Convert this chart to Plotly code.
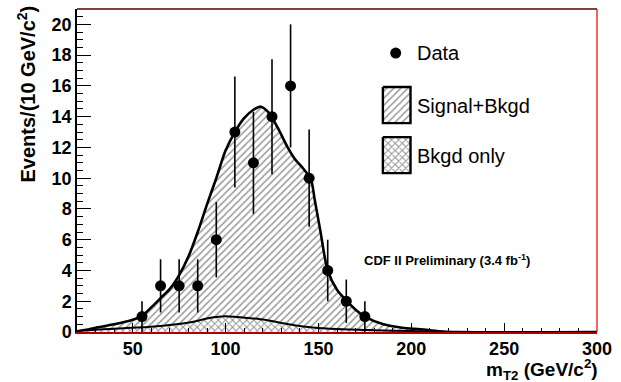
import plotly.graph_objects as go

# ---------------- data ----------------
data_x = [55, 65, 75, 85, 95, 105, 115, 125, 135, 145, 155, 165, 175]
data_y = [1, 3, 3, 3, 6, 13, 11, 14, 16, 10, 4, 2, 1]
data_err = [1.0, 1.73, 1.73, 1.73, 2.45, 3.61, 3.32, 3.74, 4.0, 3.16, 2.0, 1.41, 1.0]

sig_x = [20, 25, 30, 40, 50, 55, 60, 65, 70, 75, 80, 85, 90, 95, 100, 105, 110, 115,
         119, 123, 128, 133, 137, 142, 146, 148, 151, 155, 160, 165, 170, 175, 185,
         195, 205, 215, 225, 300]
sig_y = [0.05, 0.15, 0.28, 0.5, 0.8, 1.05, 1.6, 2.2, 2.8, 3.7, 4.9, 6.5, 8.3, 10.0,
         11.8, 13.0, 13.9, 14.45, 14.65, 14.3, 13.3, 12.1, 11.3, 10.6, 9.9, 8.6, 6.6,
         4.0, 2.75, 2.05, 1.45, 1.0, 0.5, 0.28, 0.18, 0.05, 0.0, 0.0]

bkg_x = [20, 30, 45, 58, 70, 82, 90, 95, 100, 106, 112, 121, 130, 137, 147, 160, 180,
         200, 220, 300]
bkg_y = [0.05, 0.15, 0.25, 0.33, 0.45, 0.65, 0.88, 0.98, 1.02, 0.97, 0.91, 0.8, 0.59,
         0.44, 0.3, 0.2, 0.12, 0.06, 0.0, 0.0]

x_ticks = [50, 100, 150, 200, 250, 300]
y_ticks = [0, 2, 4, 6, 8, 10, 12, 14, 16, 18, 20]

FONT = "Liberation Sans, Arial, Helvetica, sans-serif"
HATCH = dict(shape="/", size=5, solidity=0.3, fgcolor="#333333", bgcolor="white")
XHATCH = dict(shape="x", size=5, solidity=0.35, fgcolor="#222222", bgcolor="white")

fig = go.Figure()

# Signal + background (hatched)
fig.add_trace(go.Scatter(
    x=sig_x, y=sig_y, mode="lines", line=dict(color="black", width=2.6, shape="spline", smoothing=0.8),
    fill="tozeroy", fillcolor="white", fillpattern=HATCH,
    showlegend=False, hoverinfo="skip"))

# Background only (cross-hatched)
fig.add_trace(go.Scatter(
    x=bkg_x, y=bkg_y, mode="lines", line=dict(color="black", width=2, shape="spline", smoothing=0.8),
    fill="tozeroy", fillcolor="white", fillpattern=XHATCH,
    showlegend=False, hoverinfo="skip"))

# Data
fig.add_trace(go.Scatter(
    x=data_x, y=data_y, mode="markers",
    marker=dict(color="black", size=11, symbol="circle"),
    error_y=dict(type="data", array=data_err, visible=True, color="black", thickness=1.6, width=0),
    showlegend=False))

# ---------------- custom legend on a pixel-coordinate overlay ----------------
fig.add_trace(go.Scatter(
    x=[400], y=[53], mode="markers", marker=dict(color="black", size=11),
    xaxis="x2", yaxis="y2", showlegend=False, hoverinfo="skip"))
fig.add_trace(go.Scatter(
    x=[387, 415, 415, 387, 387], y=[87, 87, 123, 123, 87], mode="lines",
    line=dict(color="black", width=2.4), fill="toself", fillcolor="white", fillpattern=HATCH,
    xaxis="x2", yaxis="y2", showlegend=False, hoverinfo="skip"))
fig.add_trace(go.Scatter(
    x=[387, 415, 415, 387, 387], y=[137, 137, 173, 173, 137], mode="lines",
    line=dict(color="black", width=2.4), fill="toself", fillcolor="white", fillpattern=XHATCH,
    xaxis="x2", yaxis="y2", showlegend=False, hoverinfo="skip"))

ann = []
def txt(x, y, s, size, bold=False, xanchor="left", yanchor="middle", angle=0, ref="x2"):
    ann.append(dict(x=x, y=y, xref=ref if ref == "paper" else "x2",
                    yref="paper" if ref == "paper" else "y2",
                    text=s, showarrow=False, borderpad=0,
                    xanchor=xanchor, yanchor=yanchor, textangle=angle,
                    font=dict(family=FONT, size=size, color="black",
                              weight="bold" if bold else "normal")))

txt(421, 53, "Data", 20)
txt(421, 106, "Signal+Bkgd", 20)
txt(421, 156, "Bkgd only", 20)
txt(367, 260, "CDF II Preliminary (3.4 fb<sup>-1</sup>)", 13, bold=True)
# axis titles in paper coordinates
txt(1.004, -0.162, "m<sub>T2</sub> (GeV/c<sup>2</sup>)", 19, bold=True, xanchor="right",
    yanchor="bottom", ref="paper")
txt(-0.097, 0.737, "Events/(10 GeV/c<sup>2</sup>)", 20, bold=True, xanchor="center", angle=-90, ref="paper")

fig.update_layout(
    width=621, height=382,
    margin=dict(l=77, r=17, t=9, b=50),
    paper_bgcolor="white", plot_bgcolor="white",
    showlegend=False,
    annotations=ann,
    xaxis=dict(range=[20, 300], tickvals=x_ticks, ticktext=[str(v) for v in x_ticks],
               ticks="inside", ticklen=9, tickwidth=1, tickcolor="black",
               minor=dict(dtick=10, tick0=0, ticks="inside", ticklen=4, tickcolor="black", tickwidth=1),
               showgrid=False, zeroline=False, showline=True, linecolor="#b00000", linewidth=1.5,
               tickfont=dict(family=FONT, size=18, color="black", weight="bold")),
    yaxis=dict(range=[0, 21], tickvals=y_ticks, ticktext=[str(v) for v in y_ticks],
               ticks="inside", ticklen=14, tickwidth=1, tickcolor="black",
               minor=dict(dtick=0.5, tick0=0, ticks="inside", ticklen=6, tickcolor="black", tickwidth=1),
               showgrid=False, zeroline=False, showline=True, linecolor="black", linewidth=1.5,
               tickfont=dict(family=FONT, size=18, color="black", weight="bold")),
    xaxis2=dict(range=[77, 604], overlaying="x", anchor="y2", visible=False, fixedrange=True),
    yaxis2=dict(range=[331.7, 9], overlaying="y", anchor="x2", visible=False, fixedrange=True),
    shapes=[
        dict(type="line", xref="paper", yref="paper", x0=0, x1=1, y0=1, y1=1,
             line=dict(color="#5a0000", width=1.5)),
        dict(type="line", xref="paper", yref="paper", x0=1, x1=1, y0=0, y1=1,
             line=dict(color="#e00000", width=1.2)),
    ],
)

fig.write_html("out.html")
